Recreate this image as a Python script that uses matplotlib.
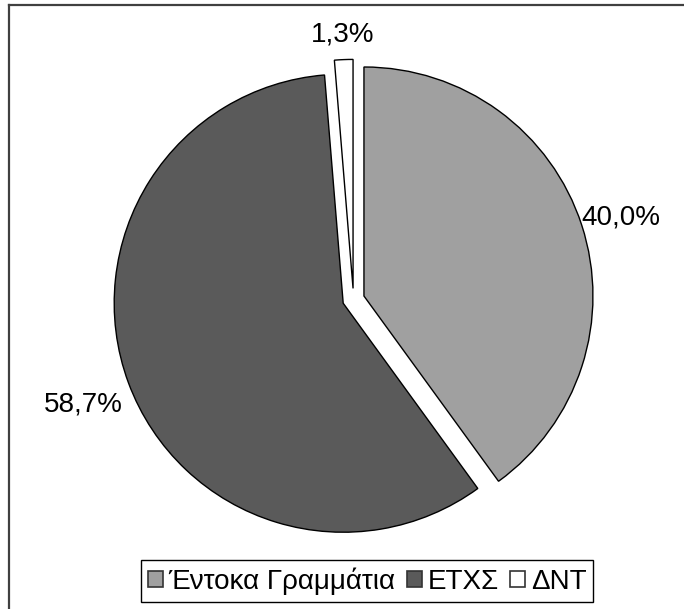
import matplotlib
matplotlib.use('Agg')
import matplotlib.pyplot as plt
from matplotlib.lines import Line2D
from matplotlib.patches import Patch
import numpy as np

plt.rcParams['font.family'] = ['Liberation Sans', 'DejaVu Sans']

labels = ['Έντοκα Γραμμάτια', 'ΕΤΧΣ', 'ΔΝΤ']
values = [40.0, 58.7, 1.3]
colors = ['#a0a0a0', '#5a5a5a', '#ffffff']
explode = [0.048, 0.048, 0.048]
label_dist = [1.18, 1.21, 1.13]

W, H = 684, 609
fig = plt.figure(figsize=(W/100, H/100), dpi=100)

# pie centre / radius in pixels
cx, cy, r = 353.5, 299.4, 229
ax = fig.add_axes([(cx-r)/W, (H-cy-r)/H, 2*r/W, 2*r/H])

wedges, _ = ax.pie(values, colors=colors, explode=explode, startangle=90,
                   counterclock=False, radius=1,
                   wedgeprops=dict(edgecolor='black', linewidth=1.0))
for w in wedges:
    w.set_clip_on(False)

for w, v, d in zip(wedges, values, label_dist):
    ang = np.deg2rad((w.theta1 + w.theta2) / 2)
    x0, y0 = w.center
    ax.text(x0 + d*np.cos(ang), y0 + d*np.sin(ang) - 0.02, f'{v:.1f}%'.replace('.', ','),
            ha='center', va='center', fontsize=20, clip_on=False)

ax.set_xlim(-1, 1)
ax.set_ylim(-1, 1)
ax.set_aspect('equal')
ax.axis('off')

handles = [Patch(facecolor=c, edgecolor='#333333', linewidth=1.2) for c in colors]
leg = fig.legend(handles, labels, loc='center', bbox_to_anchor=(367/W, (H-581)/H),
                 ncol=3, fontsize=20, handlelength=0.55, handleheight=0.55,
                 handletextpad=0.2, columnspacing=0.4, borderpad=0.25,
                 borderaxespad=0, fancybox=False, framealpha=1)
leg.get_frame().set_edgecolor('black')
leg.get_frame().set_linewidth(1.0)

# chart border (only top and left visible in the picture)
fig.add_artist(Line2D([9/W, 9/W], [0, (H-5)/H], color='#404040', lw=1.6))
fig.add_artist(Line2D([9/W, 1], [(H-5)/H, (H-5)/H], color='#404040', lw=1.6))

fig.savefig('out.png', dpi=100)
